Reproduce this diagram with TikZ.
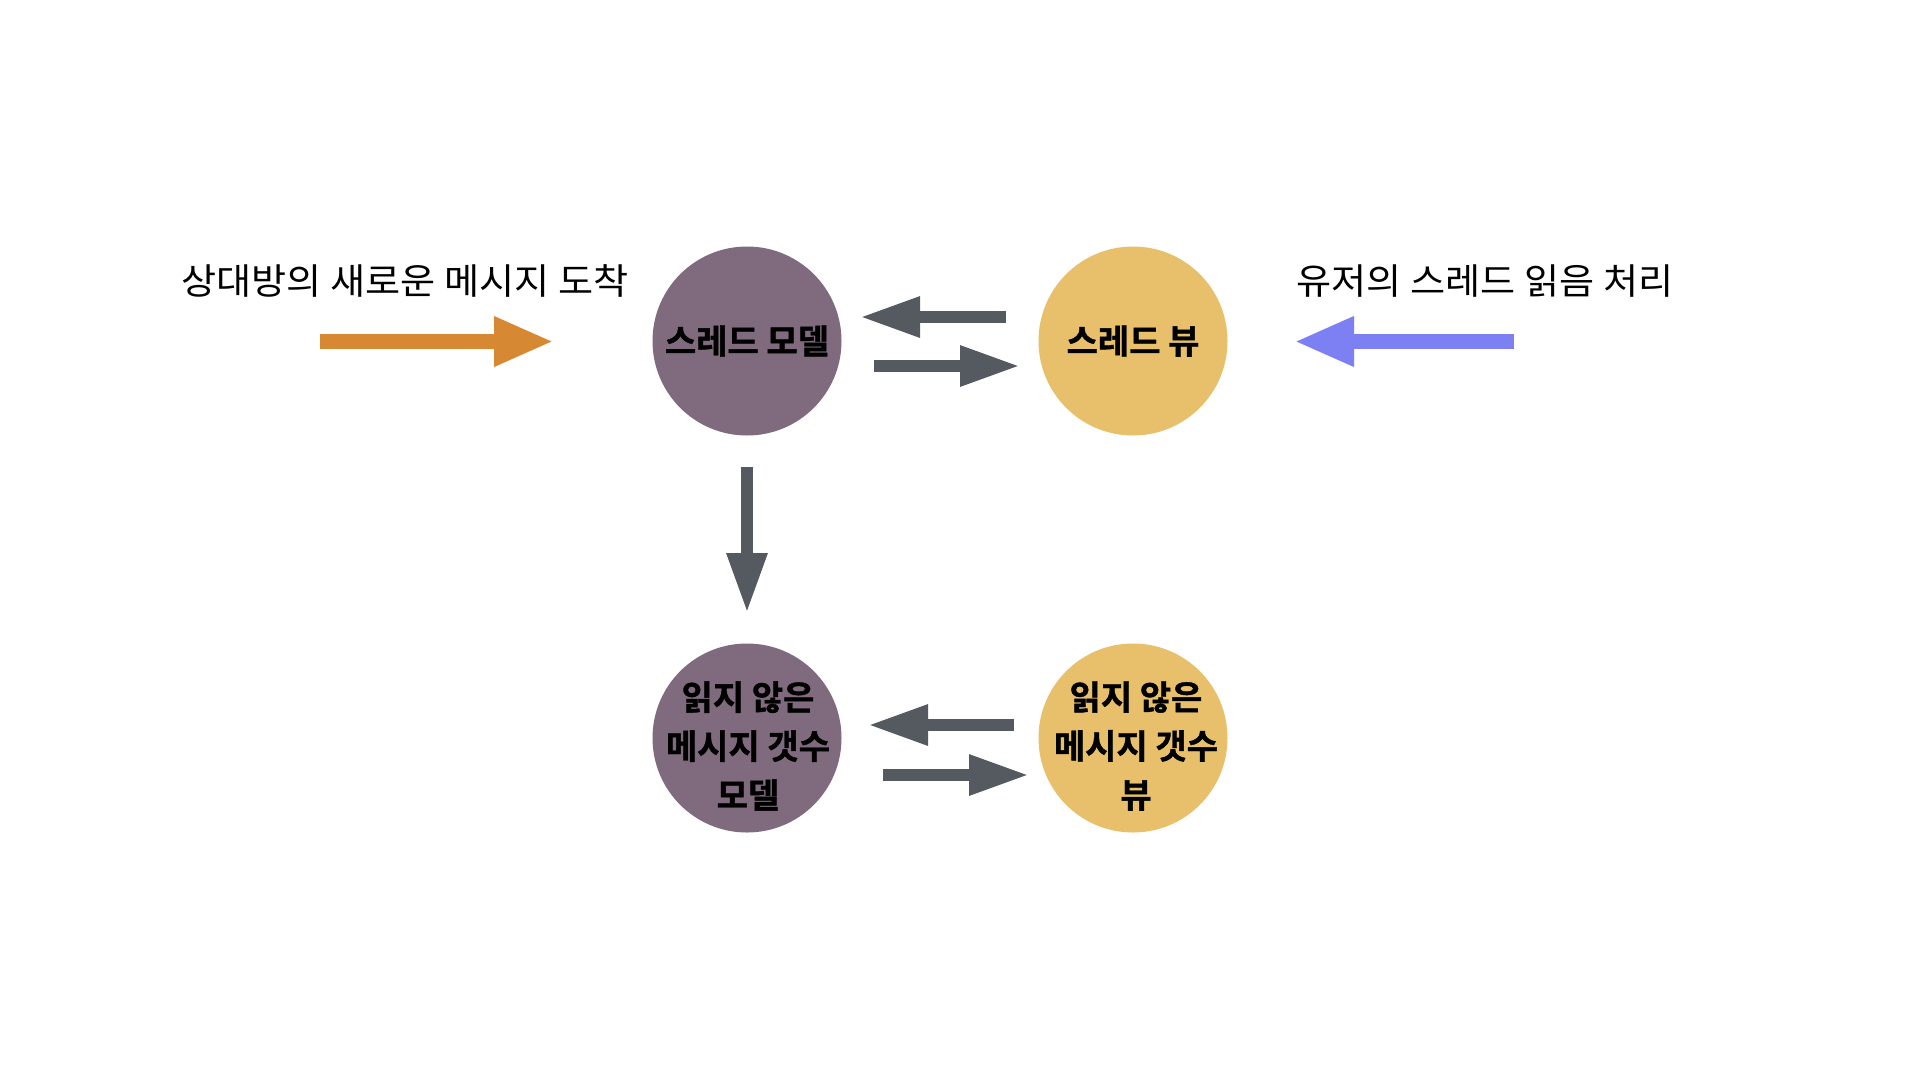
\documentclass[tikz,border=0pt]{standalone}
\usepackage{fontspec}
\newfontfamily\kr{Noto Sans CJK KR}[FakeStretch=1.06]
\newfontfamily\krb{Noto Sans CJK KR}[UprightFont=* Bold, FakeBold=1.2]
\usetikzlibrary{arrows.meta}
\definecolor{cpurple}{RGB}{127,106,126}
\definecolor{cyellow}{RGB}{232,192,108}
\definecolor{corange}{RGB}{214,137,50}
\definecolor{cblue}{RGB}{125,128,242}
\definecolor{cgray}{RGB}{84,90,96}
\tikzset{
  bubble/.style={circle, draw=none, minimum size=189pt, inner sep=0pt},
  bubtext/.style={font=\krb\fontsize{34}{49}\selectfont, align=center, text=black, inner sep=0pt},
  lbl/.style={font=\kr\fontsize{36}{40}\selectfont, anchor=base, inner sep=0pt},
  grayarrow/.style={draw=cgray, line width=12pt, -{Triangle[length=60pt,width=38pt]}},
  bigarrow/.style={line width=15pt, -{Triangle[length=60pt,width=46pt]}},
}
\begin{document}
\begin{tikzpicture}[x=1pt,y=-1pt]
\useasboundingbox (0,0) rectangle (1920,1080);
\fill[white] (0,0) rectangle (1920,1080);

% circles
\node[bubble, fill=cpurple, bubtext] (tm) at (747,341) {스레드 모델};
\node[bubble, fill=cyellow, bubtext] (tv) at (1133,341) {스레드 뷰};
\node[bubble, fill=cpurple] (um) at (747,738) {};
\node[bubble, fill=cyellow] (uv) at (1133,738) {};
\node[bubtext] (umt) at (748,746) {읽지 않은\\메시지 갯수\\모델};
\node[bubtext] (uvt) at (1136,746) {읽지 않은\\메시지 갯수\\뷰};

% labels
\node[lbl] (l1) at (405,294) {상대방의 새로운 메시지 도착};
\node[lbl] (l2) at (1485,294) {유저의 스레드 읽음 처리};

% arrow endpoints
\coordinate (o1) at (320,341.5);
\coordinate (o2) at (554,341.5);
\coordinate (b1) at (1514,341.5);
\coordinate (b2) at (1294,341.5);
\coordinate (g1a) at (1006,317);
\coordinate (g1b) at (860,317);
\coordinate (g2a) at (874,366);
\coordinate (g2b) at (1020,366);
\coordinate (g3a) at (747,467);
\coordinate (g3b) at (747,613);
\coordinate (g4a) at (1014,725);
\coordinate (g4b) at (868,725);
\coordinate (g5a) at (883,775);
\coordinate (g5b) at (1029,775);

\draw[bigarrow, draw=corange] (o1) -- (o2);
\draw[bigarrow, draw=cblue] (b1) -- (b2);
\draw[grayarrow] (g1a) -- (g1b);
\draw[grayarrow] (g2a) -- (g2b);
\draw[grayarrow] (g3a) -- (g3b);
\draw[grayarrow] (g4a) -- (g4b);
\draw[grayarrow] (g5a) -- (g5b);
\end{tikzpicture}
\end{document}
